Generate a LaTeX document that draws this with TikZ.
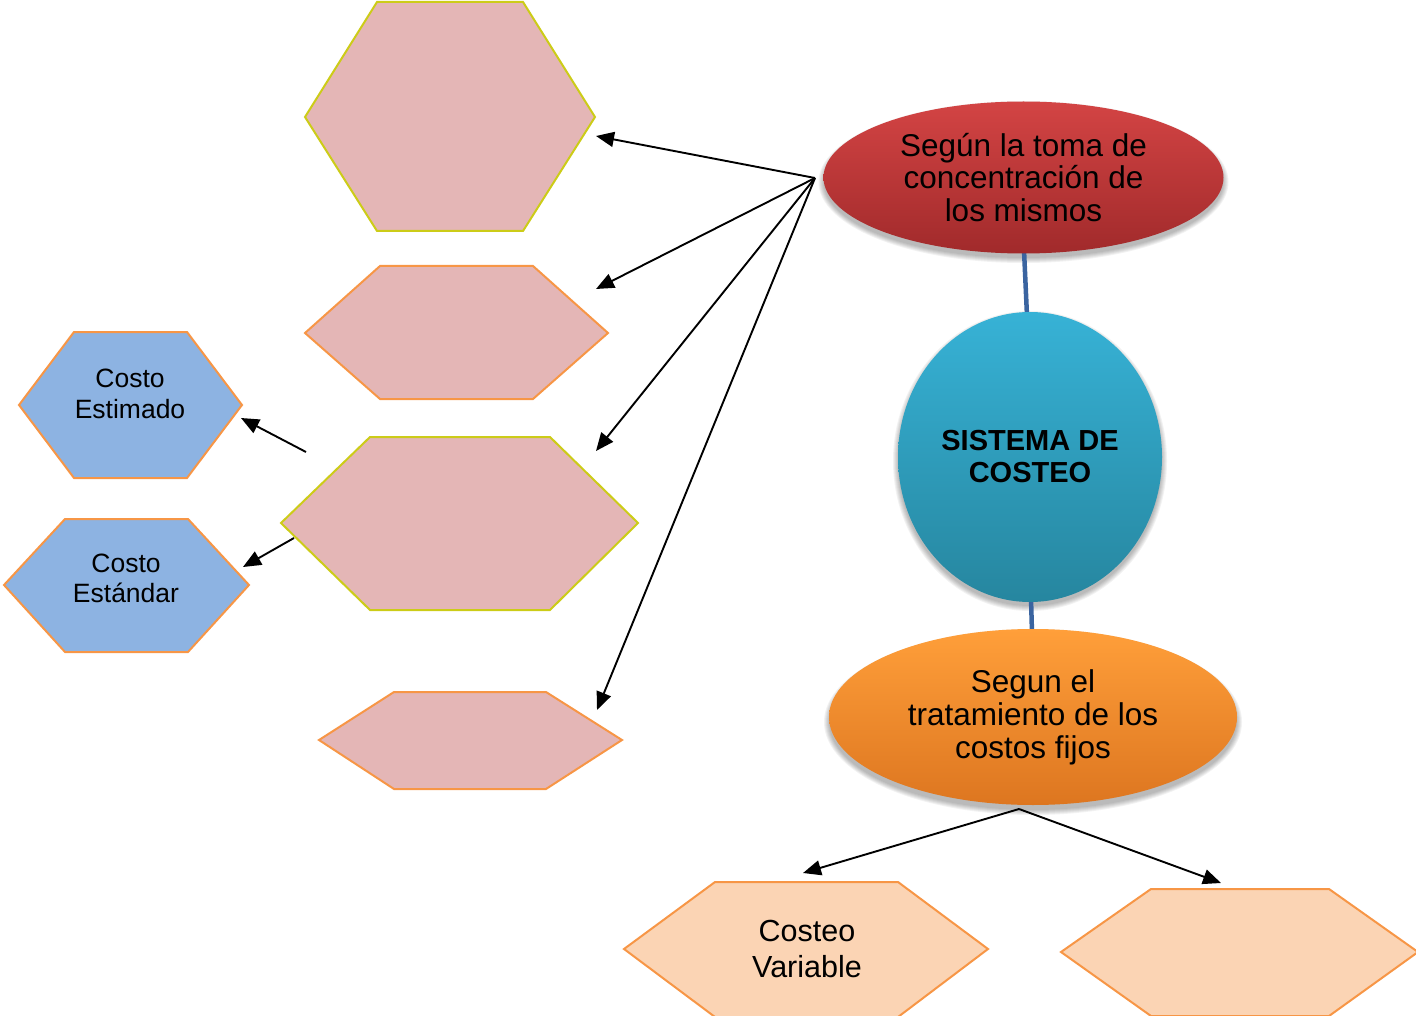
\documentclass[tikz,border=0pt]{standalone}
\usepackage{fontspec}
\setmainfont{Liberation Sans}
\usetikzlibrary{arrows.meta,shapes.geometric}

\definecolor{hexpink}{HTML}{E4B6B6}
\definecolor{hexyellow}{HTML}{CCCC18}
\definecolor{hexorange}{HTML}{F79646}
\definecolor{hexblue}{HTML}{8DB3E2}
\definecolor{hexpeach}{HTML}{FBD4B4}
\definecolor{stemblue}{HTML}{3A64A0}
\definecolor{redtop}{HTML}{D34444}
\definecolor{redbot}{HTML}{A12A2B}
\definecolor{cyantop}{HTML}{37B2D6}
\definecolor{cyanbot}{HTML}{26869F}
\definecolor{orangetop}{HTML}{FF9F3A}
\definecolor{orangebot}{HTML}{DD7620}

\tikzset{
  pinkY/.style={fill=hexpink, draw=hexyellow, line width=2pt},
  pinkO/.style={fill=hexpink, draw=hexorange, line width=2pt},
  bluehex/.style={fill=hexblue, draw=hexorange, line width=2pt},
  peachhex/.style={fill=hexpeach, draw=hexorange, line width=2pt},
  bubble/.style={ellipse, inner sep=0pt, align=center, text=black},
  stem/.style={draw=stemblue, line width=4.5pt},
  link/.style={draw=black, line width=1.9pt, -{Triangle[length=18pt,width=15pt]}},
  hexlabel/.style={inner sep=0pt, align=center, text=black},
  halo/.style={fill=black, opacity=0.05}
}

\begin{document}
\begin{tikzpicture}[x=1pt,y=-1pt]
\useasboundingbox (0,0) rectangle (1416,1016);
\clip (0,0) rectangle (1416,1016);

% pink hexagons on the left column
\draw[pinkY] (305,117) -- (377,2) -- (523,2) -- (595,117) -- (523,231) -- (377,231) -- cycle;
\draw[pinkO] (305,333) -- (380,266) -- (533,266) -- (608,333) -- (533,399) -- (380,399) -- cycle;
\draw[pinkY] (281,523) -- (370,437) -- (550,437) -- (638,523) -- (550,610) -- (370,610) -- cycle;
\draw[pinkO] (319,740) -- (394,692) -- (546,692) -- (622,740) -- (546,789) -- (394,789) -- cycle;

% blue hexagons
\draw[bluehex] (19,405) -- (74,332) -- (187,332) -- (242,405) -- (187,478) -- (74,478) -- cycle;
\draw[bluehex] (4,585) -- (65,519) -- (188,519) -- (249,585) -- (188,652) -- (65,652) -- cycle;
\node[hexlabel, font=\fontsize{26.5}{31}\selectfont] (estimado) at (130,394) {Costo\\Estimado};
\node[hexlabel, font=\fontsize{26.5}{30.5}\selectfont] (estandar) at (126,578.5) {Costo\\Estándar};

% peach hexagons at the bottom
\draw[peachhex] (624,949) -- (715,882) -- (898,882) -- (988,949) -- (898,1017) -- (715,1017) -- cycle;
\draw[peachhex] (1061,952) -- (1151,889) -- (1329,889) -- (1418,952) -- (1329,1016) -- (1151,1016) -- cycle;
\node[hexlabel, font=\fontsize{30.5}{36}\selectfont] (variable) at (807,949) {Costeo\\Variable};

% soft shadows under the ellipses
\foreach \k in {0,...,5} {
  \fill[halo] (1023.5,182) ellipse [x radius=200+\k, y radius=76+\k];
  \fill[halo] (1030,461) ellipse [x radius=132+\k, y radius=145+\k];
  \fill[halo] (1033,722) ellipse [x radius=204+\k, y radius=88+\k];
}

% vertical stems between the ellipses
\draw[stem] (1024,250) -- (1027,316);
\draw[stem] (1031,598) -- (1032,633);

% ellipses
\node[bubble, minimum width=400pt, minimum height=152pt, top color=redtop, bottom color=redbot,
      font=\fontsize{31.5}{32.5}\selectfont] (toma) at (1023.5,177.5)
  {Según la toma de\\concentración de\\los mismos};
\node[bubble, minimum width=264pt, minimum height=290pt, top color=cyantop, bottom color=cyanbot,
      font=\fontsize{29}{32}\selectfont\bfseries] (sistema) at (1030,457)
  {SISTEMA DE\\COSTEO};
\node[bubble, minimum width=408pt, minimum height=176pt, top color=orangetop, bottom color=orangebot,
      font=\fontsize{31.5}{33}\selectfont] (fijos) at (1033,717)
  {Segun el\\tratamiento de los\\costos fijos};

% arrow end points
\coordinate (tomasrc) at (815,178);
\coordinate (h1) at (596,136);
\coordinate (h2) at (596,289);
\coordinate (h3) at (596,451);
\coordinate (h4) at (597,710);
\coordinate (fijossrc) at (1019,809);
\coordinate (cv) at (803,873);
\coordinate (cf) at (1221,883);
\coordinate (midA) at (306,452);
\coordinate (midB) at (294,538);
\coordinate (estA) at (241,418);
\coordinate (estB) at (243,567);

% arrows
\draw[link] (tomasrc) -- (h1);
\draw[link] (tomasrc) -- (h2);
\draw[link] (tomasrc) -- (h3);
\draw[link] (tomasrc) -- (h4);
\draw[link] (fijossrc) -- (cv);
\draw[link] (fijossrc) -- (cf);
\draw[link] (midA) -- (estA);
\draw[link] (midB) -- (estB);
\end{tikzpicture}
\end{document}
